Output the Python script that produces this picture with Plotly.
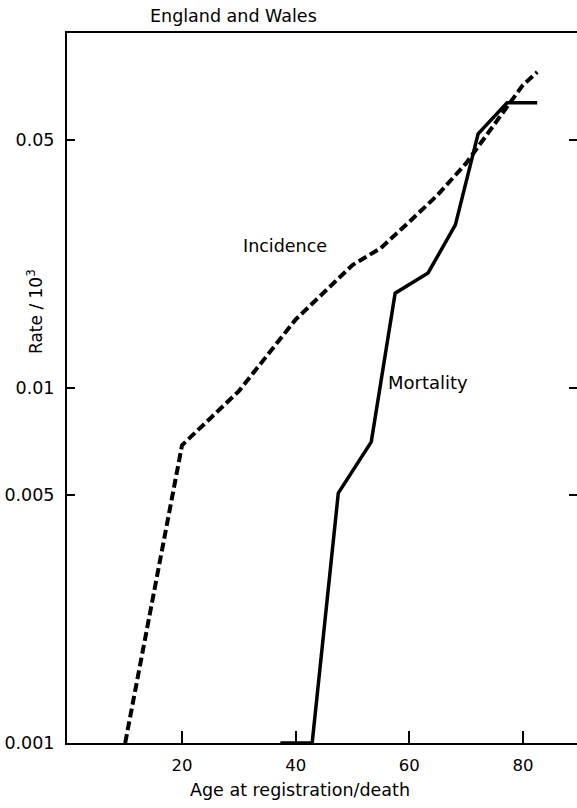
import plotly.graph_objects as go

# Data
inc_age = [10.0, 20.0, 30.0, 40.0, 50.0, 55.0, 60.0, 65.0, 70.0, 75.0, 80.0, 82.5]
inc_rate = [0.001, 0.0069, 0.0098, 0.0156, 0.0222, 0.0248, 0.0294, 0.035, 0.043, 0.0555, 0.0714, 0.0776]

mort_age = [37.3, 42.9, 47.5, 53.3, 57.5, 63.3, 68.1, 72.1, 77.2, 82.5]
mort_rate = [0.001, 0.001, 0.00506, 0.00705, 0.0185, 0.0211, 0.0288, 0.052, 0.0636, 0.0636]

x_ticks = [20, 40, 60, 80]
y_ticks = [0.001, 0.005, 0.01, 0.05]
y_ticktext = ["0.001", "0.005", "0.01", "0.05"]

FONT = "DejaVu Sans"
X0, X1 = -0.24, 89.5
L, R_PX, T, B_PX = 67, 577, 33, 743


def px_to_age(px):
    return X0 + (px - L) / (R_PX - L) * (X1 - X0)


def py_to_log(py):
    return -3 + (B_PX - py) / 355


fig = go.Figure()
fig.add_trace(go.Scatter(x=inc_age, y=inc_rate, mode="lines",
                         line=dict(color="black", width=4, dash="9px,4px"),
                         showlegend=False))
fig.add_trace(go.Scatter(x=mort_age, y=mort_rate, mode="lines",
                         line=dict(color="black", width=3.5),
                         showlegend=False))
# invisible trace to activate the right-side tick axis
fig.add_trace(go.Scatter(x=[None], y=[None], yaxis="y2", showlegend=False))

fig.update_layout(
    width=577, height=808,
    margin=dict(l=L, r=0, t=T, b=808 - B_PX),
    plot_bgcolor="white", paper_bgcolor="white",
    font=dict(family=FONT, size=16, color="black"),
    xaxis=dict(range=[X0, X1], tickvals=x_ticks, ticks="inside", ticklen=12,
               tickwidth=1.5, tickcolor="black", showline=True, linecolor="black",
               linewidth=2, mirror=True, showgrid=False, zeroline=False,
               ticklabelstandoff=6, tickfont=dict(size=16.5)),
    yaxis=dict(type="log", range=[-3, -1], tickvals=y_ticks, ticktext=y_ticktext,
               ticks="inside", ticklen=8, tickwidth=1.5, tickcolor="black",
               showline=True, linecolor="black", linewidth=2, mirror=False,
               showgrid=False, zeroline=False, ticklabelstandoff=7,
               tickfont=dict(size=17.5)),
    yaxis2=dict(type="log", range=[-3, -1], tickvals=y_ticks, overlaying="y",
                side="right", ticks="inside", ticklen=8, tickwidth=1.5,
                tickcolor="black", showline=False, showticklabels=False,
                showgrid=False, zeroline=False),
    annotations=[
        dict(text="England and Wales", xref="paper", yref="paper",
             x=(233 - L) / (R_PX - L), y=1, xanchor="center", yanchor="bottom",
             yshift=5, showarrow=False, font=dict(size=17.5)),
        dict(text="Rate / 10<sup>3</sup>", xref="paper", yref="paper",
             x=0, xshift=-32, y=(B_PX - 312) / (B_PX - T), xanchor="center",
             yanchor="middle", textangle=-90, showarrow=False, font=dict(size=17)),
        dict(text="Age at registration/death", xref="paper", yref="paper",
             x=(300 - L) / (R_PX - L), y=0, yshift=-47, xanchor="center",
             yanchor="middle", showarrow=False, font=dict(size=17.5)),
        dict(text="Incidence", x=px_to_age(285), y=py_to_log(246),
             showarrow=False, xanchor="center", yanchor="middle",
             font=dict(size=17.5)),
        dict(text="Mortality", x=px_to_age(428), y=py_to_log(382),
             showarrow=False, xanchor="center", yanchor="middle",
             font=dict(size=18)),
    ],
)

fig.write_html("out.html")
